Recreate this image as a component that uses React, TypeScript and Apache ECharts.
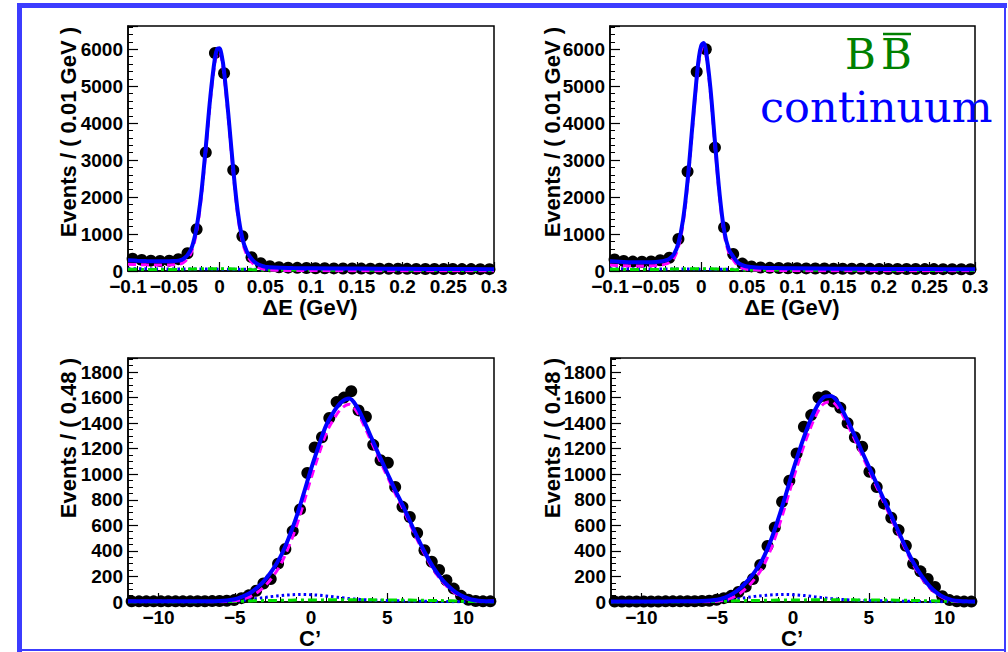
import React, { useEffect, useRef } from 'react';
import * as echarts from 'echarts';

// ---------- Delta E panels (bin width 0.01 GeV) ----------
const dEBins = [-0.095, -0.085, -0.075, -0.065, -0.055, -0.045, -0.035, -0.025, -0.015, -0.005,
  0.005, 0.015, 0.025, 0.035, 0.045, 0.055, 0.065, 0.075, 0.085, 0.095,
  0.105, 0.115, 0.125, 0.135, 0.145, 0.155, 0.165, 0.175, 0.185, 0.195,
  0.205, 0.215, 0.225, 0.235, 0.245, 0.255, 0.265, 0.275, 0.285, 0.295];
const dEDataLeft = [330, 300, 280, 270, 280, 320, 480, 1130, 3210, 5900,
  5350, 2730, 940, 375, 210, 130, 100, 90, 85, 80,
  76, 73, 70, 68, 66, 65, 63, 62, 60, 59,
  58, 57, 56, 55, 54, 53, 52, 51, 50, 50];
const dEDataRight = [310, 270, 255, 250, 260, 290, 360, 866, 2690, 5390,
  6000, 3340, 1180, 460, 200, 125, 95, 85, 80, 76,
  73, 70, 68, 66, 64, 62, 61, 60, 58, 57,
  56, 55, 54, 53, 52, 51, 50, 50, 49, 48];

const dEFitX = [-0.1, -0.09, -0.08, -0.07, -0.06, -0.05, -0.045, -0.04, -0.035, -0.03, -0.025, -0.02,
  -0.015, -0.01, -0.005, -0.0025, 0, 0.0025, 0.005, 0.01, 0.015, 0.02, 0.025, 0.03, 0.035, 0.04,
  0.045, 0.05, 0.06, 0.08, 0.1, 0.15, 0.2, 0.25, 0.3];
const dETotalLeft = [290, 278, 268, 262, 262, 268, 280, 320, 430, 660, 1180, 2080,
  3350, 4720, 5760, 6010, 6030, 5820, 5400, 4150, 2760, 1600, 880, 520, 330, 210,
  150, 115, 92, 80, 74, 65, 58, 53, 48];
const dESignalLeft = [185, 175, 167, 163, 164, 170, 181, 220, 327, 554, 1070, 1968,
  3236, 4606, 5645, 5895, 5916, 5707, 5288, 4041, 2654, 1499, 784, 430, 245, 130,
  73, 41, 21, 13, 11, 9, 8, 9, 8];
const dETotalRight = [265, 250, 240, 236, 238, 245, 255, 280, 330, 450, 760, 1380,
  2440, 3850, 5240, 5790, 6100, 6170, 5990, 4960, 3500, 2110, 1110, 600, 390, 230,
  160, 120, 95, 80, 74, 64, 57, 52, 48];
const dESignalRight = [160, 147, 139, 137, 140, 147, 156, 180, 227, 344, 650, 1268,
  2326, 3736, 5125, 5675, 5986, 6057, 5878, 4851, 3394, 2009, 1014, 510, 305, 150,
  83, 46, 24, 13, 11, 8, 7, 8, 8];
const dEContinuum = [60, 59, 58, 57, 56, 55, 55, 54, 54, 53, 53, 52,
  52, 51, 51, 51, 50, 50, 50, 49, 49, 48, 48, 47, 47, 46,
  46, 45, 44, 42, 40, 36, 32, 28, 25];
const dEBBbar = [45, 44, 43, 42, 42, 43, 44, 46, 49, 53, 57, 60,
  62, 63, 64, 64, 64, 63, 62, 60, 57, 53, 48, 43, 38, 34,
  31, 29, 27, 25, 23, 20, 18, 16, 15];

// ---------- C' panels (bin width 0.48) ----------
const cBins = [-11.76, -11.28, -10.8, -10.32, -9.84, -9.36, -8.88, -8.4, -7.92, -7.44,
  -6.96, -6.48, -6.0, -5.52, -5.04, -4.56, -4.08, -3.6, -3.12, -2.64,
  -2.16, -1.68, -1.2, -0.72, -0.24, 0.24, 0.72, 1.2, 1.68, 2.16,
  2.64, 3.12, 3.6, 4.08, 4.56, 5.04, 5.52, 6.0, 6.48, 6.96,
  7.44, 7.92, 8.4, 8.88, 9.36, 9.84, 10.32, 10.8, 11.28, 11.76];
const cDataLeft = [5, 5, 5, 5, 5, 5, 5, 5, 5, 6,
  6, 7, 8, 10, 15, 30, 52, 88, 145, 180,
  300, 415, 555, 725, 1010, 1210, 1290, 1440, 1565, 1600,
  1650, 1500, 1450, 1230, 1110, 1090, 900, 745, 665, 540,
  405, 315, 250, 170, 105, 48, 18, 8, 5, 5];
const cDataRight = [4, 4, 4, 4, 4, 4, 4, 5, 5, 5,
  6, 6, 8, 10, 18, 30, 48, 78, 120, 180,
  290, 438, 584, 785, 949, 1163, 1372, 1463, 1600, 1610,
  1570, 1520, 1400, 1290, 1215, 1020, 900, 770, 660, 563,
  440, 300, 240, 180, 118, 45, 15, 5, 3, 3];

const cFitX = [-12, -11, -10, -9, -8, -7, -6, -5, -4.5, -4, -3.5, -3, -2.5, -2, -1.5, -1, -0.5,
  0, 0.5, 1, 1.5, 2, 2.5, 3, 3.5, 4, 4.5, 5, 5.5, 6, 6.5, 7, 7.5, 8, 8.5, 9, 9.5, 10, 10.5, 11, 11.5, 12];
const cTotalLeft = [5, 5, 5, 5, 5, 6, 8, 22, 42, 70, 115, 175, 255, 355, 490, 650, 840,
  1040, 1220, 1385, 1490, 1565, 1592, 1530, 1410, 1275, 1140, 1010, 880, 760, 630, 500, 380, 275, 190, 125, 75, 42, 20, 10, 6, 5];
const cSignalLeft = [5, 5, 5, 5, 4, 3, 2, 10, 23, 42, 77, 128, 199, 292, 421, 577, 766,
  967, 1151, 1321, 1433, 1515, 1548, 1491, 1375, 1243, 1111, 983, 854, 736, 607, 479, 361, 258, 175, 112, 65, 34, 15, 7, 5, 5];
const cTotalRight = [4, 4, 4, 4, 5, 6, 8, 18, 35, 62, 105, 165, 240, 335, 470, 640, 830,
  1030, 1215, 1380, 1515, 1600, 1612, 1555, 1445, 1320, 1190, 1060, 930, 800, 670, 540, 410, 295, 200, 125, 70, 35, 15, 7, 5, 4];
const cSignalRight = [4, 4, 4, 4, 4, 3, 2, 6, 16, 34, 67, 118, 184, 272, 401, 567, 756,
  957, 1146, 1316, 1458, 1550, 1568, 1516, 1410, 1288, 1161, 1033, 904, 776, 647, 519, 391, 278, 185, 112, 60, 27, 10, 4, 4, 4];
const cContinuum = [0, 0, 0, 0, 1, 2, 4, 8, 13, 20, 28, 36, 44, 50, 55, 58, 59,
  57, 53, 47, 40, 33, 27, 22, 18, 15, 13, 11, 10, 9, 8, 7, 6, 5, 4, 3, 2, 2, 1, 1, 0, 0];
const cBBbar = [0, 0, 0, 0, 0, 1, 2, 4, 6, 8, 10, 11, 12, 13, 14, 15, 15,
  16, 16, 17, 17, 17, 17, 17, 17, 17, 16, 16, 16, 15, 15, 14, 13, 12, 11, 10, 8, 6, 4, 2, 1, 0];

const dETicks = [-0.1, -0.05, 0, 0.05, 0.1, 0.15, 0.2, 0.25, 0.3];
const cTicks = [-10, -5, 0, 5, 10];

const SANS = '"Liberation Sans", Arial, Helvetica, sans-serif';
const SERIF = '"DejaVu Serif", serif';

const tickFont = { fontFamily: SANS, fontWeight: 'bold' as const, fontSize: 19, color: '#000' };
const fmt = (v: number) => String(Math.round(v * 1000) / 1000).replace('-', '\u2212');
const fmtY = (v: number) => String(Math.round(v));

const grids = [
  { left: 128, top: 26, width: 366, height: 245 },
  { left: 610, top: 26, width: 365, height: 245 },
  { left: 128, top: 358, width: 366, height: 244 },
  { left: 611, top: 358, width: 364, height: 244 },
].map((g) => ({ ...g, show: true, borderColor: '#000', borderWidth: 1.5, backgroundColor: 'transparent' }));

const axisLine = { show: true, onZero: false, lineStyle: { color: '#000', width: 1.5 } };

function dEXAxis(gi: number) {
  return {
    type: 'value', gridIndex: gi, position: 'bottom', min: dETicks[0], max: dETicks[dETicks.length - 1], interval: 0.05,
    axisLine,
    axisTick: { show: true, inside: true, length: 9, lineStyle: { color: '#000', width: 1.2 } },
    minorTick: { show: true, splitNumber: 5, length: 5, lineStyle: { color: '#000', width: 1 } },
    splitLine: { show: false }, minorSplitLine: { show: false },
    axisLabel: { ...tickFont, lineHeight: 15, margin: 8, formatter: fmt },
  };
}
function cXAxis(gi: number) {
  return {
    type: 'value', gridIndex: gi, position: 'bottom', min: -12, max: 12,
    axisLine,
    axisTick: { show: true, inside: true, length: 9, customValues: cTicks, lineStyle: { color: '#000', width: 1.2 } },
    splitLine: { show: false },
    axisLabel: { ...tickFont, lineHeight: 15, margin: 8, customValues: cTicks, formatter: fmt },
  };
}
function cXMinor(gi: number) {
  return {
    type: 'value', gridIndex: gi, position: 'bottom', offset: 0, min: -12, max: 12, interval: 1,
    axisLine: { show: false, onZero: false },
    axisTick: { show: true, inside: true, length: 5, lineStyle: { color: '#000', width: 1 } },
    axisLabel: { show: false }, splitLine: { show: false },
  };
}
function yAxis(gi: number, max: number, interval: number, minorSplit: number) {
  return {
    type: 'value', gridIndex: gi, position: 'left', min: 0, max, interval,
    axisLine,
    axisTick: { show: true, inside: true, length: 10, lineStyle: { color: '#000', width: 1.2 } },
    minorTick: { show: true, splitNumber: minorSplit, length: 5, lineStyle: { color: '#000', width: 1 } },
    splitLine: { show: false }, minorSplitLine: { show: false },
    axisLabel: { ...tickFont, lineHeight: 14, margin: 5, showMaxLabel: false, formatter: fmtY },
  };
}

function pairs(xs: number[], ys: number[]) {
  return xs.map((x, i) => [x, ys[i]]);
}

function panelSeries(xi: number, yi: number, bins: number[], data: number[], fx: number[],
  total: number[], signal: number[], bb: number[], cont: number[]) {
  const line = (d: number[], color: string, width: number, type: any, z: number) => ({
    type: 'line', xAxisIndex: xi, yAxisIndex: yi, data: pairs(fx, d), showSymbol: false, symbol: 'none',
    smooth: 0.35, lineStyle: { color, width, type }, z, silent: true,
  });
  return [
    { type: 'scatter', xAxisIndex: xi, yAxisIndex: yi, data: pairs(bins, data), symbol: 'circle', symbolSize: 12,
      itemStyle: { color: '#000', opacity: 1 }, z: 2, silent: true },
    line(cont, '#0000ff', 3, [2.5, 3], 3),
    line(bb, '#00e000', 3, [9, 4, 3, 4], 3),
    line(signal, '#ff00ff', 3, [8, 5], 4),
    line(total, '#0000ff', 4, 'solid', 5),
  ];
}

const titleFont = `bold 22px ${SANS}`;
function vText(x: number, y: number, text: string) {
  return { type: 'text', x, y, rotation: Math.PI / 2, silent: true,
    style: { text, font: titleFont, fill: '#000', align: 'right', verticalAlign: 'middle', textAlign: 'right', textVerticalAlign: 'middle' } };
}
function hText(x: number, y: number, text: string) {
  return { type: 'text', x, y, silent: true,
    style: { text, font: titleFont, fill: '#000', align: 'center', verticalAlign: 'middle', textAlign: 'center', textVerticalAlign: 'middle' } };
}

const frameColor = '#3c3cff';

const option: any = {
  animation: false,
  backgroundColor: '#fff',
  grid: grids,
  xAxis: [dEXAxis(0), dEXAxis(1), cXAxis(2), cXAxis(3), cXMinor(2), cXMinor(3)],
  yAxis: [yAxis(0, 6630, 1000, 5), yAxis(1, 6630, 1000, 5), yAxis(2, 1910, 200, 4), yAxis(3, 1910, 200, 4)],
  series: [
    ...panelSeries(0, 0, dEBins, dEDataLeft, dEFitX, dETotalLeft, dESignalLeft, dEBBbar, dEContinuum),
    ...panelSeries(1, 1, dEBins, dEDataRight, dEFitX, dETotalRight, dESignalRight, dEBBbar, dEContinuum),
    ...panelSeries(2, 2, cBins, cDataLeft, cFitX, cTotalLeft, cSignalLeft, cBBbar, cContinuum),
    ...panelSeries(3, 3, cBins, cDataRight, cFitX, cTotalRight, cSignalRight, cBBbar, cContinuum),
  ],
  graphic: [
    { type: 'rect', silent: true, shape: { x: 17, y: 3, width: 5, height: 649 }, style: { fill: frameColor } },
    { type: 'rect', silent: true, shape: { x: 17, y: 3, width: 990, height: 5 }, style: { fill: frameColor } },
    { type: 'rect', silent: true, shape: { x: 1004, y: 3, width: 2, height: 649 }, style: { fill: frameColor } },
    { type: 'rect', silent: true, shape: { x: 17, y: 649, width: 989, height: 2 }, style: { fill: frameColor } },
    vText(68, 27, 'Events / ( 0.01 GeV )'),
    vText(552, 27, 'Events / ( 0.01 GeV )'),
    vText(68, 358, 'Events / ( 0.48 )'),
    vText(552, 358, 'Events / ( 0.48 )'),
    hText(310, 307, '\u0394E (GeV)'),
    hText(792, 307, '\u0394E (GeV)'),
    hText(310, 638.5, 'C\u2019'),
    hText(792, 638.5, 'C\u2019'),
    { type: 'text', x: 845, y: 54, silent: true,
      style: { text: 'B', font: `42px ${SERIF}`, fill: '#008000', align: 'left', verticalAlign: 'middle', textAlign: 'left', textVerticalAlign: 'middle' } },
    { type: 'text', x: 881, y: 54, silent: true,
      style: { text: 'B', font: `42px ${SERIF}`, fill: '#008000', align: 'left', verticalAlign: 'middle', textAlign: 'left', textVerticalAlign: 'middle' } },
    { type: 'line', silent: true, shape: { x1: 883, y1: 34, x2: 911, y2: 34 }, style: { stroke: '#008000', lineWidth: 2.5 } },
    { type: 'text', x: 760, y: 107, silent: true,
      style: { text: 'continuum', font: `43px ${SERIF}`, fill: '#0000ff', align: 'left', verticalAlign: 'middle', textAlign: 'left', textVerticalAlign: 'middle' } },
  ],
};

export default function App() {
  const ref = useRef<HTMLDivElement>(null);
  useEffect(() => {
    if (!ref.current) return;
    const chart = echarts.init(ref.current, null, { renderer: 'svg' });
    chart.setOption(option);
    return () => chart.dispose();
  }, []);
  return (
    <div
      ref={ref}
      style={{ position: 'absolute', left: 0, top: 0, width: 1008, height: 652, background: '#fff' }}
    />
  );
}
